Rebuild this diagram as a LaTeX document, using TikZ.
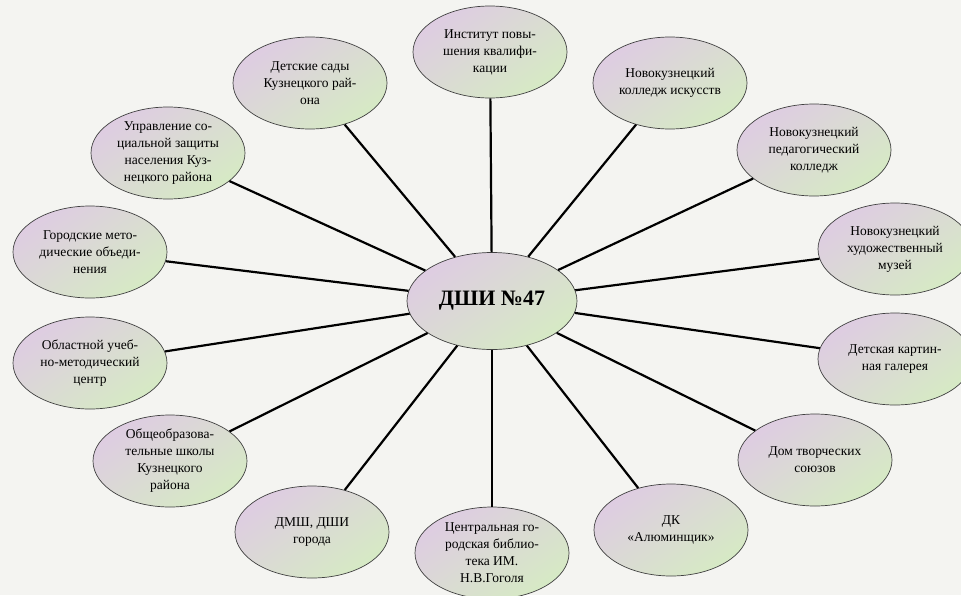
\documentclass[tikz,border=0pt]{standalone}
\usepackage{fontspec}
\setmainfont{Liberation Serif}
\usepackage{xcolor}
\usepackage{tikz}
\usetikzlibrary{shapes.geometric}

\definecolor{fon}{RGB}{244,244,241}
\definecolor{lil}{RGB}{222,204,226}
\definecolor{zel}{RGB}{214,234,196}

\begin{document}
\begin{tikzpicture}[x=1pt, y=-1pt, color=black,
		org/.style={ellipse, draw=black!75, line width=0.7pt, top color=lil, bottom color=zel, shading angle=35,
			minimum width=154pt, minimum height=92pt, inner sep=0pt, align=center,
			font=\fontsize{13.5}{17}\selectfont},
		link/.style={line width=2.2pt}]
		\fill[fon] (0,0) rectangle (961,595);
		\useasboundingbox (0,0) rectangle (961,595);
		
		\node[org, minimum width=170pt, minimum height=97pt, font=\fontsize{22}{25}\selectfont\bfseries] (dshi) at (492,301) {ДШИ №47};
		
		\node[org] (inst) at (490,52) {Институт повы-\\шения квалифи-\\кации};
		\node[org] (sady) at (310,83) {Детские сады\\Кузнецкого рай-\\она};
		\node[org] (koll) at (670,83) {Новокузнецкий\\колледж искусств};
		\node[org] (upr) at (168,153) {Управление со-\\циальной защиты\\населения Куз-\\нецкого района};
		\node[org] (ped) at (814,150) {Новокузнецкий\\педагогический\\колледж};
		\node[org] (gor) at (90,252) {Городские мето-\\дические объеди-\\нения};
		\node[org] (muz) at (895,249) {Новокузнецкий\\художественный\\музей};
		\node[org] (obl) at (90,363) {Областной учеб-\\но-методический\\центр};
		\node[org] (gal) at (895,359) {Детская картин-\\ная галерея};
		\node[org] (shk) at (170,461) {Общеобразова-\\тельные школы\\Кузнецкого\\района};
		\node[org] (dom) at (815,460) {Дом творческих\\союзов};
		\node[org] (dmsh) at (312,532) {ДМШ, ДШИ\\города};
		\node[org] (dk) at (671,530) {ДК\\«Алюминщик»};
		\node[org] (bib) at (492,553) {Центральная го-\\родская библио-\\тека ИМ.\\Н.В.Гоголя};
		
		% links to the centre
		\draw[link] (dshi) -- (inst);
		\draw[link] (dshi) -- (sady);
		\draw[link] (dshi) -- (koll);
		\draw[link] (dshi) -- (upr);
		\draw[link] (dshi) -- (ped);
		\draw[link] (dshi) -- (gor);
		\draw[link] (dshi) -- (muz);
		\draw[link] (dshi) -- (obl);
		\draw[link] (dshi) -- (gal);
		\draw[link] (dshi) -- (shk);
		\draw[link] (dshi) -- (dom);
		\draw[link] (dshi) -- (dmsh);
		\draw[link] (dshi) -- (dk);
		\draw[link] (dshi) -- (bib);
	\end{tikzpicture}
\end{document}
